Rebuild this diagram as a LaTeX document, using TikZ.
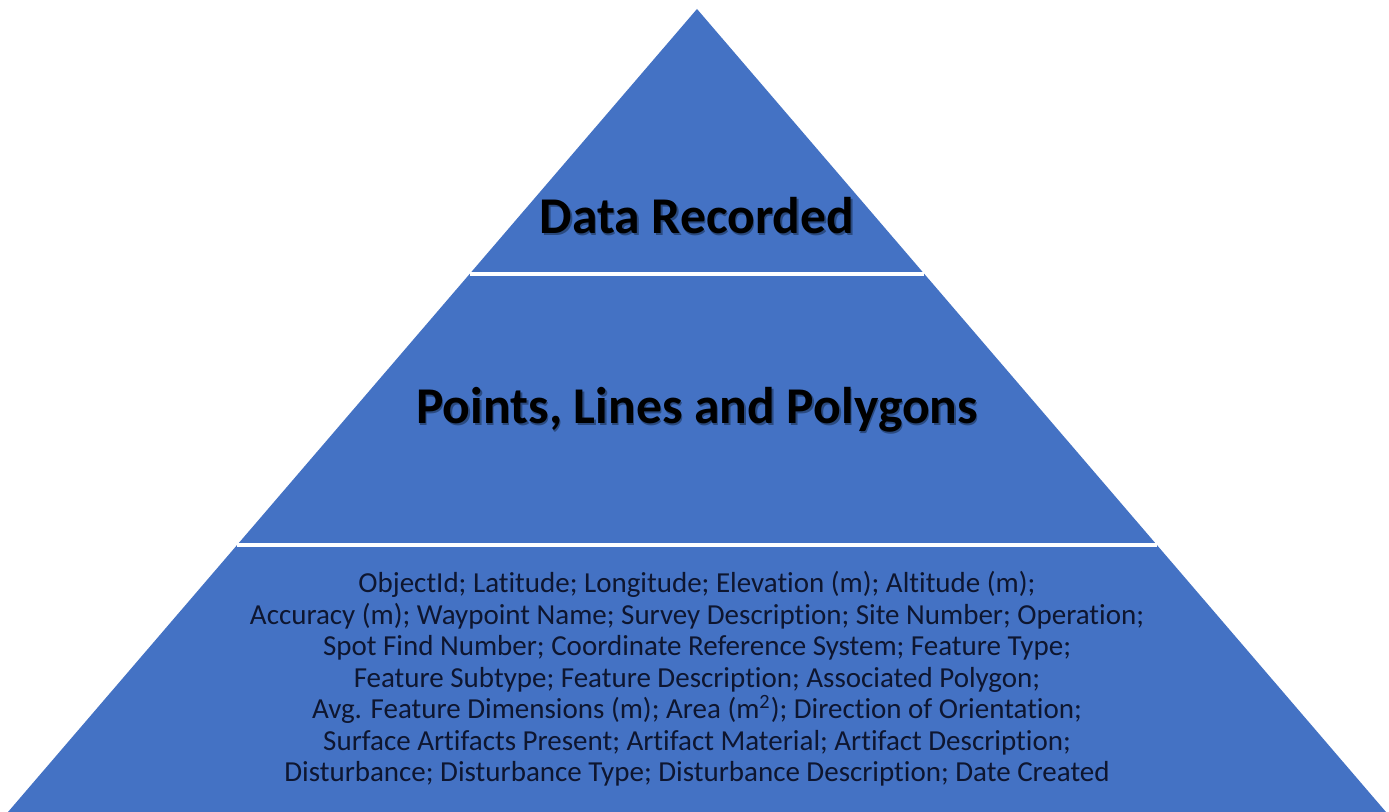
\documentclass[tikz,border=0pt]{standalone}
\usepackage{fontspec}
\setmainfont{Carlito}[Ligatures={NoCommon}]
\definecolor{pyrblue}{HTML}{4472C4}
\definecolor{bodytext}{HTML}{0E1630}
\definecolor{shade}{HTML}{2A4A80}
\tikzset{
  title/.style={font=\bfseries\fontsize{25.8}{31}\selectfont, text=black, inner sep=0pt},
  titleshadow/.style={title, text=shade},
  body/.style={font=\fontsize{14.5}{15.75}\selectfont, text=bodytext, align=center, inner sep=0pt},
  divider/.style={draw=white, line width=1.6pt}
}
\begin{document}
\begin{tikzpicture}[x=0.5pt,y=-0.5pt]
  \useasboundingbox[fill=white] (0,0) rectangle (1389,812);
  \coordinate (apex) at (697,9);
  \coordinate (bl) at (8,812);
  \coordinate (br) at (1386,812);
  \fill[pyrblue] (apex) -- (bl) -- (br) -- cycle;
  \coordinate (d1l) at (469.6,274);
  \coordinate (d1r) at (924.4,274);
  \coordinate (d2l) at (237.1,545);
  \coordinate (d2r) at (1156.9,545);
  \draw[divider] (d1l) -- (d1r);
  \draw[divider] (d2l) -- (d2r);
  \node[titleshadow] (topsh) at (698.5,217.5) {Data Recorded};
  \node[title] (top) at (697,216) {Data Recorded};
  \node[titleshadow] (midsh) at (698.5,411.5) {Points, Lines and Polygons};
  \node[title] (mid) at (697,410) {Points, Lines and Polygons};
  \node[body] (base) at (697,679) {ObjectId; Latitude; Longitude; Elevation (m); Altitude (m);\\
Accuracy (m); Waypoint Name; Survey Description; Site Number; Operation;\\
Spot Find Number; Coordinate Reference System; Feature Type;\\
Feature Subtype; Feature Description; Associated Polygon;\\
Avg. Feature Dimensions (m); Area (m\textsuperscript{2}); Direction of Orientation;\\
Surface Artifacts Present; Artifact Material; Artifact Description;\\
Disturbance; Disturbance Type; Disturbance Description; Date Created};
\end{tikzpicture}
\end{document}
